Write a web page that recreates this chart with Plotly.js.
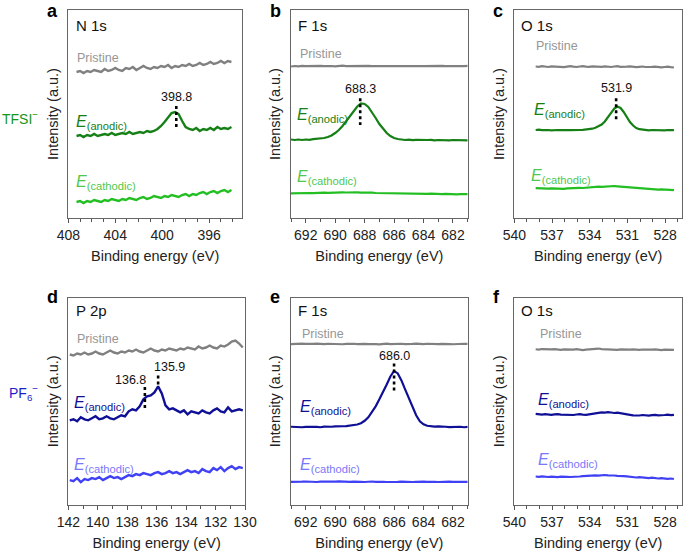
<!DOCTYPE html>
<html><head><meta charset="utf-8">
<script src="https://cdn.plot.ly/plotly-3.0.1.min.js"></script>
<style>html,body{margin:0;padding:0;background:#fff}#chart{width:691px;height:555px}</style>
</head><body><div id="chart"></div>
<script>
// ---------- energy grids (start, step, count) ----------
const gridA = [407.3, -0.3, 45];
const gridB = [693.0, -0.25, 49];
const gridC = [538.3, -0.25, 45];
const gridD = [141.9, -0.25, 48];
const gridE = [693.0, -0.25, 49];
const gridF = [538.3, -0.25, 45];

// ---------- (a) N 1s, TFSI ----------
const aPristine = [146,147,145,147,146,148,147,146,149,147,148,150,148,147,150,149,151,148,150,152,150,149,151,150,152,151,153,150,152,151,153,152,154,152,153,155,153,154,156,154,155,157,155,157,156];
const aAnodic = [82,83,81,83,82,84,82,83,84,83,85,83,84,85,84,86,84,85,86,85,87,86,87,89,92,96,101,105,106,104,97,91,89,88,90,87,89,88,90,88,91,89,90,89,91];
const aCathodic = [16,17,15,17,16,18,17,16,18,17,19,18,17,19,18,20,19,18,20,21,19,20,22,21,20,22,21,23,22,21,23,24,22,24,23,25,26,24,26,27,25,27,28,26,28];
// ---------- (b) F 1s, TFSI ----------
const bPristine = [151.5,152,151.7,152.2,151.8,152,152.3,151.9,152.1,151.8,152.2,152,151.7,152.1,152.3,151.9,152,152.2,151.8,152,152.4,152.1,151.9,152.2,152,151.8,152.1,152.3,152,151.9,152.2,152,151.8,152.1,152.3,152,151.9,152.1,152.2,151.9,152,152.2,151.8,152,152.1,151.9,152,151.8,152.1];
const bAnodic = [78.5,78,78.5,78,78.5,78.2,78.8,79,79.5,80,81,82.5,85,88,92,97,102,107,111.5,114.5,114,111,106,100,94,89,85,82,80,79,78.5,78,78.3,77.8,78.2,78,77.6,78,78.2,77.7,78,77.8,78.1,77.6,78,77.9,77.5,77.8,77.7];
const bCathodic = [24.6,24.8,24.5,24.9,24.7,25.0,24.8,25.1,25.0,25.3,25.2,25.5,25.4,25.6,25.7,25.5,25.8,25.6,25.7,25.4,25.5,25.2,25.3,25.0,24.9,25.1,24.8,24.7,24.9,24.5,24.6,24.4,24.7,24.3,24.5,24.2,24.4,24.1,24.3,24.0,24.2,23.9,24.1,23.8,24.0,23.7,23.9,23.6,23.8];
// ---------- (c) O 1s, TFSI ----------
const cPristine = [151.5,151.2,151.8,151.4,151,151.6,151.3,151.7,151.2,150.9,151.4,151.8,151.3,151,151.5,151.9,151.4,151.1,151.6,151.3,150.8,151.2,151.7,151.4,151,151.5,151.8,151.2,150.9,151.3,151.6,151.1,150.8,151.2,151.5,151,150.7,151.1,151.4,150.9,150.6,151,151.3,150.8,150.5];
const cAnodic = [88,88.3,87.8,88.1,88,87.7,88.2,88,87.9,88.3,88,87.8,88.1,88.4,88,88.2,88.5,88.8,89.3,90.2,91.5,93.5,96.5,100.5,105,109.5,111.5,110,106,101,96,92.5,90,88.8,88.2,88,87.7,88,87.8,87.5,87.9,87.6,88,87.7,87.9];
const cCathodic = [29.8,29.5,29.9,29.6,29.3,29.7,29.4,29.8,29.5,29.2,29.6,29.9,29.5,29.8,30.2,30.0,30.4,30.8,30.6,31.0,31.3,31.1,31.5,31.8,31.6,32.0,31.7,31.4,31.6,31.1,30.8,30.5,30.1,29.8,29.4,29.1,28.8,29.0,28.6,28.3,28.7,28.4,28.0,28.3,27.9];
// ---------- (d) P 2p, PF6 ----------
const dPristine = [151,150,152,151,153,151,152,154,152,151,153,155,153,152,154,153,155,154,156,154,153,155,157,155,154,156,155,157,156,155,157,156,158,157,156,159,157,158,160,158,157,160,159,161,164,165,162,158];
const dAnodic = [85,86,84,88,86,85,87,89,86,87,89,87,86,88,90,89,94,96,95,99,106,109,110,113,119,112,100,96,97,95,93,95,91,94,93,92,95,93,92,95,97,94,93,98,94,95,96,95];
const dCathodic = [25,24,27,23,26,25,27,26,28,25,27,29,27,28,26,28,30,29,31,30,32,31,30,32,33,31,32,34,32,33,31,33,35,33,34,32,36,34,33,37,35,38,34,37,39,36,38,37];
// ---------- (e) F 1s, PF6 ----------
const ePristine = [161.5,161.8,161.4,161.9,161.6,161.3,161.7,162.0,161.6,161.4,161.8,161.5,161.9,161.6,161.3,161.7,162.1,161.8,161.5,161.9,161.6,161.4,161.8,161.5,161.2,161.6,161.9,161.5,161.7,161.4,161.8,161.5,161.3,161.7,161.9,161.6,161.4,161.8,161.5,161.7,161.4,161.6,161.9,161.5,161.3,161.7,161.5,161.8,161.6];
const eAnodic = [78.5,78.2,78.6,78,78.4,78.1,78.5,78.3,78,78.6,78.2,78.5,78.8,78.6,79,79.2,79.5,80,80.8,82,84.5,88,93,99,106,113,121,129,134.5,132,125,116,107,98,90,84,81,79.5,79,78.6,78.8,78.3,78.5,78.1,78.4,78.2,78.5,78,78.3];
const eCathodic = [23.2,23.5,23.1,23.4,23.6,23.2,23.4,23.1,23.5,23.3,23.6,23.2,23.4,23.7,23.3,23.5,23.2,23.4,23.6,23.3,23.1,23.4,23.6,23.2,23.5,23.3,23.1,23.4,23.6,23.3,23.5,23.2,23.4,23.1,23.3,23.6,23.4,23.2,23.5,23.3,23.1,23.4,23.2,23.5,23.3,23.1,23.4,23.2,23.3];
// ---------- (f) O 1s, PF6 ----------
const fPristine = [156.3,156.0,156.5,156.2,155.8,156.1,156.4,156.0,155.7,156.2,155.9,155.6,156.0,156.3,155.8,155.5,155.9,156.2,156.8,157.2,157.0,156.5,156.2,155.9,156.3,156.0,155.7,156.1,155.8,155.5,155.9,156.2,155.8,155.6,156.0,155.7,155.4,155.8,156.1,155.7,155.5,155.9,155.6,155.4,155.7];
const fAnodic = [91.5,91.0,90.6,91.1,90.8,90.4,90.9,91.2,90.7,90.5,91.0,90.6,90.3,90.8,91.1,90.6,90.4,91.0,91.5,92.0,92.6,93.0,92.7,93.2,92.8,92.3,92.6,91.9,91.4,91.0,90.5,89.9,89.5,89.8,90.3,90.0,89.7,90.2,90.5,90.0,89.8,90.3,90.6,90.1,90.4];
const fCathodic = [28.6,28.3,28.8,28.4,28.1,28.5,28.2,28.0,28.4,28.7,28.3,28.1,28.5,28.9,28.6,28.9,29.3,29.0,29.4,29.8,29.5,29.9,30.1,29.8,30.0,29.6,29.3,29.5,29.0,28.7,28.3,28.0,27.6,27.9,27.5,27.2,27.0,27.4,26.9,26.6,26.9,26.5,26.2,26.6,26.1];

// ---------- peak markers ----------
const peakPanels = ['a','b','c','d','d','e'];
const peakPos    = [398.8, 688.3, 531.9, 136.8, 135.9, 686.0];
const peakTop    = [112, 119.7, 119.7, 118.3, 130, 142];
const peakBottom = [91, 93, 98, 96.7, 118.3, 115];
const peakLabelX = [398.8, 688.3, 531.9, 137.8, 135.1, 686.0];
const peakLabelY = [121, 128.7, 129.7, 125, 138.3, 150];
const peakLabels = ['398.8','688.3','531.9','136.8','135.9','686.0'];

// ---------- panel metadata ----------
const panelLetters = ['a','b','c','d','e','f'];
const coreLevels = ['N 1s','F 1s','O 1s','P 2p','F 1s','O 1s'];
const xRanges = [[408,393.2],[693,681],[540,526.66],[142,130],[693,681],[540,526.66]];
const xDticks = [4,2,3,2,2,3];
const xTick0  = [396,682,528,130,682,528];
const rowLabels = ['TFSI<sup>−</sup>','PF<sub>6</sub><sup>−</sup>'];

// ---------- layout geometry (pixels) ----------
const W = 691, H = 555;
const colPx = [[68.3,242],[291,467.7],[514.3,682],[68.3,245],[291,467.7],[514.3,682]];
const rowPx = [[10,218],[297.7,505]];
const px = x => x / W, py = y => 1 - y / H;
const FONT = 'Liberation Sans, Arial, Helvetica, sans-serif';

const grid = g => { const o = []; for (let i = 0; i < g[2]; i++) o.push(+(g[0] + g[1]*i).toFixed(3)); return o; };
const grids = [gridA,gridB,gridC,gridD,gridE,gridF].map(grid);
const series = [
  [aPristine,aAnodic,aCathodic],[bPristine,bAnodic,bCathodic],[cPristine,cAnodic,cCathodic],
  [dPristine,dAnodic,dCathodic],[ePristine,eAnodic,eCathodic],[fPristine,fAnodic,fCathodic]];
const noisy = [true,false,false,true,false,false];

const lineCols = {
  gray:'rgb(128,128,128)',
  tfsiA:'rgb(22,128,22)', tfsiC:'rgb(34,190,34)',
  pfA:'rgb(16,16,150)', pfC:'rgb(64,64,245)'};
const labelCols = {
  gray:'rgb(150,150,150)',
  tfsiA:'rgb(22,128,22)', tfsiC:'rgb(80,200,80)',
  pfA:'rgb(16,16,150)', pfC:'rgb(120,120,250)'};

const traces = [];
const layout = {
  width: W, height: H, margin:{l:0,r:0,t:0,b:0},
  paper_bgcolor:'#fff', plot_bgcolor:'#fff', showlegend:false,
  font:{family:FONT, color:'#222'},
  annotations: [], shapes: []
};

for (let p = 0; p < 6; p++) {
  const n = p + 1, xs = grids[p];
  const xa = 'x' + (n === 1 ? '' : n), ya = 'y' + (n === 1 ? '' : n);
  const isTop = p < 3;
  const anodKey = isTop ? 'tfsiA' : 'pfA', cathKey = isTop ? 'tfsiC' : 'pfC';
  const lw = noisy[p] ? 2.4 : 2.2;
  const names = ['Pristine','E(anodic)','E(cathodic)'];
  const cols = [lineCols.gray, lineCols[anodKey], lineCols[cathKey]];
  series[p].forEach((ys, k) => traces.push({
    type:'scatter', mode:'lines', x: xs, y: ys, xaxis: xa, yaxis: ya, name: names[k],
    line:{color: cols[k], width: lw}, hoverinfo:'skip'}));

  const row = rowPx[isTop ? 0 : 1];
  layout['xaxis' + (n === 1 ? '' : n)] = {
    domain:[px(colPx[p][0]), px(colPx[p][1])], anchor: ya,
    range: xRanges[p], dtick: xDticks[p], tick0: xTick0[p], autorange:false,
    ticks:'outside', ticklen:4, tickwidth:1, tickcolor:'#555',
    minor:{dtick:1, ticks:'outside', ticklen:2.5, tickwidth:1, tickcolor:'#555'},
    showline:true, mirror:true, linecolor:'#666', linewidth:1,
    showgrid:false, zeroline:false,
    tickfont:{size:14, color:'#222', family:FONT},
    title:{text:'Binding energy (eV)', font:{size:14.5, color:'#222', family:FONT}, standoff:9},
    automargin:false
  };
  layout['yaxis' + (n === 1 ? '' : n)] = {
    domain:[py(row[1]), py(row[0])], anchor: xa,
    range:[0,208], autorange:false,
    showticklabels:false, ticks:'', showline:true, mirror:true, linecolor:'#666', linewidth:1,
    showgrid:false, zeroline:false,
    title:{text:'Intensity (a.u.)', font:{size:14.5, color:'#222', family:FONT}, standoff:5},
    automargin:false
  };

  // panel letter
  layout.annotations.push({xref:'paper', yref:'paper', x: px(colPx[p][0] - 22), y: isTop ? 1 : py(row[0] - 12),
    xanchor:'left', yanchor:'top', borderpad:0, text:'<b>' + panelLetters[p] + '</b>', showarrow:false,
    font:{size:18, color:'#000', family:FONT}});
  // core level
  const xr = xRanges[p], span = xr[0] - xr[1];
  const leftIn = (f) => xr[0] - span * f;
  layout.annotations.push({xref: xa, yref: ya, x: leftIn(0.03), y: isTop ? 193 : 195,
    xanchor:'left', yanchor:'middle', text: coreLevels[p], showarrow:false,
    font:{size:15, color:'#111', family:FONT}});
}

// series labels (x in eV, y in intensity units)
const labPristineX = [407.43, 692.55, 538.43, 141.55, 692.4, 538.14];
const labPristineY = [160, 163.7, 172, 166.7, 171.7, 171.7];
const labAnodX = [407.55, 692.75, 538.6, 141.75, 692.55, 538.3];
const labAnodY = [96, 103, 108, 101.7, 98.3, 105];
const labCathX = [407.55, 692.75, 538.83, 141.75, 692.55, 538.3];
const labCathY = [36, 41, 41.3, 39.3, 39.3, 45];
for (let p = 0; p < 6; p++) {
  const n = p + 1, xa = 'x' + (n === 1 ? '' : n), ya = 'y' + (n === 1 ? '' : n);
  const isTop = p < 3;
  const aKey = isTop ? 'tfsiA' : 'pfA', cKey = isTop ? 'tfsiC' : 'pfC';
  layout.annotations.push({xref:xa, yref:ya, x:labPristineX[p], y:labPristineY[p], xanchor:'left', yanchor:'middle',
    text:'Pristine', showarrow:false, font:{size:12.5, color:labelCols.gray, family:FONT}});
  layout.annotations.push({xref:xa, yref:ya, x:labAnodX[p], y:labAnodY[p], xanchor:'left', yanchor:'middle',
    text:'<i>E</i><sub>(anodic)</sub>', showarrow:false, font:{size:16, color:labelCols[aKey], family:FONT}});
  layout.annotations.push({xref:xa, yref:ya, x:labCathX[p], y:labCathY[p], xanchor:'left', yanchor:'middle',
    text:'<i>E</i><sub>(cathodic)</sub>', showarrow:false, font:{size:16, color:labelCols[cKey], family:FONT}});
}

// peak dotted markers and labels
const panelIndex = {a:1,b:2,c:3,d:4,e:5,f:6};
for (let i = 0; i < peakPos.length; i++) {
  const n = panelIndex[peakPanels[i]];
  const xa = 'x' + (n === 1 ? '' : n), ya = 'y' + (n === 1 ? '' : n);
  traces.push({type:'scatter', mode:'lines', x:[peakPos[i], peakPos[i]], y:[peakTop[i], peakBottom[i]],
    xaxis:xa, yaxis:ya, line:{color:'#000', width:2.6, dash:'dot'}, hoverinfo:'skip', name:peakLabels[i]});
  layout.annotations.push({xref:xa, yref:ya, x:peakLabelX[i], y:peakLabelY[i], xanchor:'center', yanchor:'middle',
    text:peakLabels[i], showarrow:false, font:{size:12.5, color:'#111', family:FONT}});
}

// row labels
layout.annotations.push({xref:'paper', yref:'paper', x:px(0), y:py(118), xanchor:'left', yanchor:'middle',
  text:rowLabels[0], showarrow:false, font:{size:14, color:'rgb(24,150,24)', family:FONT}});
layout.annotations.push({xref:'paper', yref:'paper', x:px(7), y:py(393), xanchor:'left', yanchor:'middle',
  text:rowLabels[1], showarrow:false, font:{size:14, color:'rgb(30,30,200)', family:FONT}});

Plotly.newPlot('chart', traces, layout, {staticPlot:true, displayModeBar:false});
</script></body></html>
